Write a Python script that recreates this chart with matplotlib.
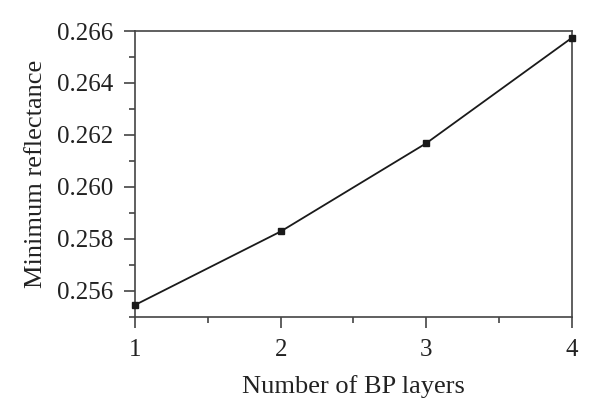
import matplotlib
matplotlib.use("Agg")
import matplotlib.pyplot as plt
from matplotlib.ticker import MultipleLocator, FormatStrFormatter

layers = [1, 2, 3, 4]
reflectance = [0.25545, 0.25828, 0.26168, 0.26574]

plt.rcParams['font.family'] = ['Liberation Serif', 'DejaVu Serif']

fig = plt.figure(figsize=(6, 4.19), dpi=100)
ax = fig.add_axes([0.225, 0.2442, 0.7283, 0.6818])

ax.plot(layers, reflectance, color='#1a1a1a', lw=1.3, marker='s', ms=4.5,
        mfc='#1a1a1a', mec='#1a1a1a', clip_on=False, zorder=3)

ax.set_xlim(1, 4)
ax.set_ylim(0.255, 0.266)
ax.xaxis.set_major_locator(MultipleLocator(1))
ax.xaxis.set_minor_locator(MultipleLocator(0.5))
ax.yaxis.set_major_locator(MultipleLocator(0.002))
ax.yaxis.set_minor_locator(MultipleLocator(0.001))
ax.yaxis.set_major_formatter(FormatStrFormatter('%.3f'))
ax.xaxis.set_major_formatter(FormatStrFormatter('%d'))

for s in ax.spines.values():
    s.set_color('#444444')
    s.set_linewidth(1.2)

ax.tick_params(which='both', direction='out', colors='#444444', labelcolor='#222222',
               top=False, right=False, width=1.2)
ax.tick_params(which='major', length=8, labelsize=18, pad=8)
ax.tick_params(which='minor', length=4)

ax.set_xlabel('Number of BP layers', fontsize=19, color='#222222', labelpad=10)
ax.set_ylabel('Minimum reflectance', fontsize=19, color='#222222', labelpad=7)

fig.savefig('out.png', dpi=100)
